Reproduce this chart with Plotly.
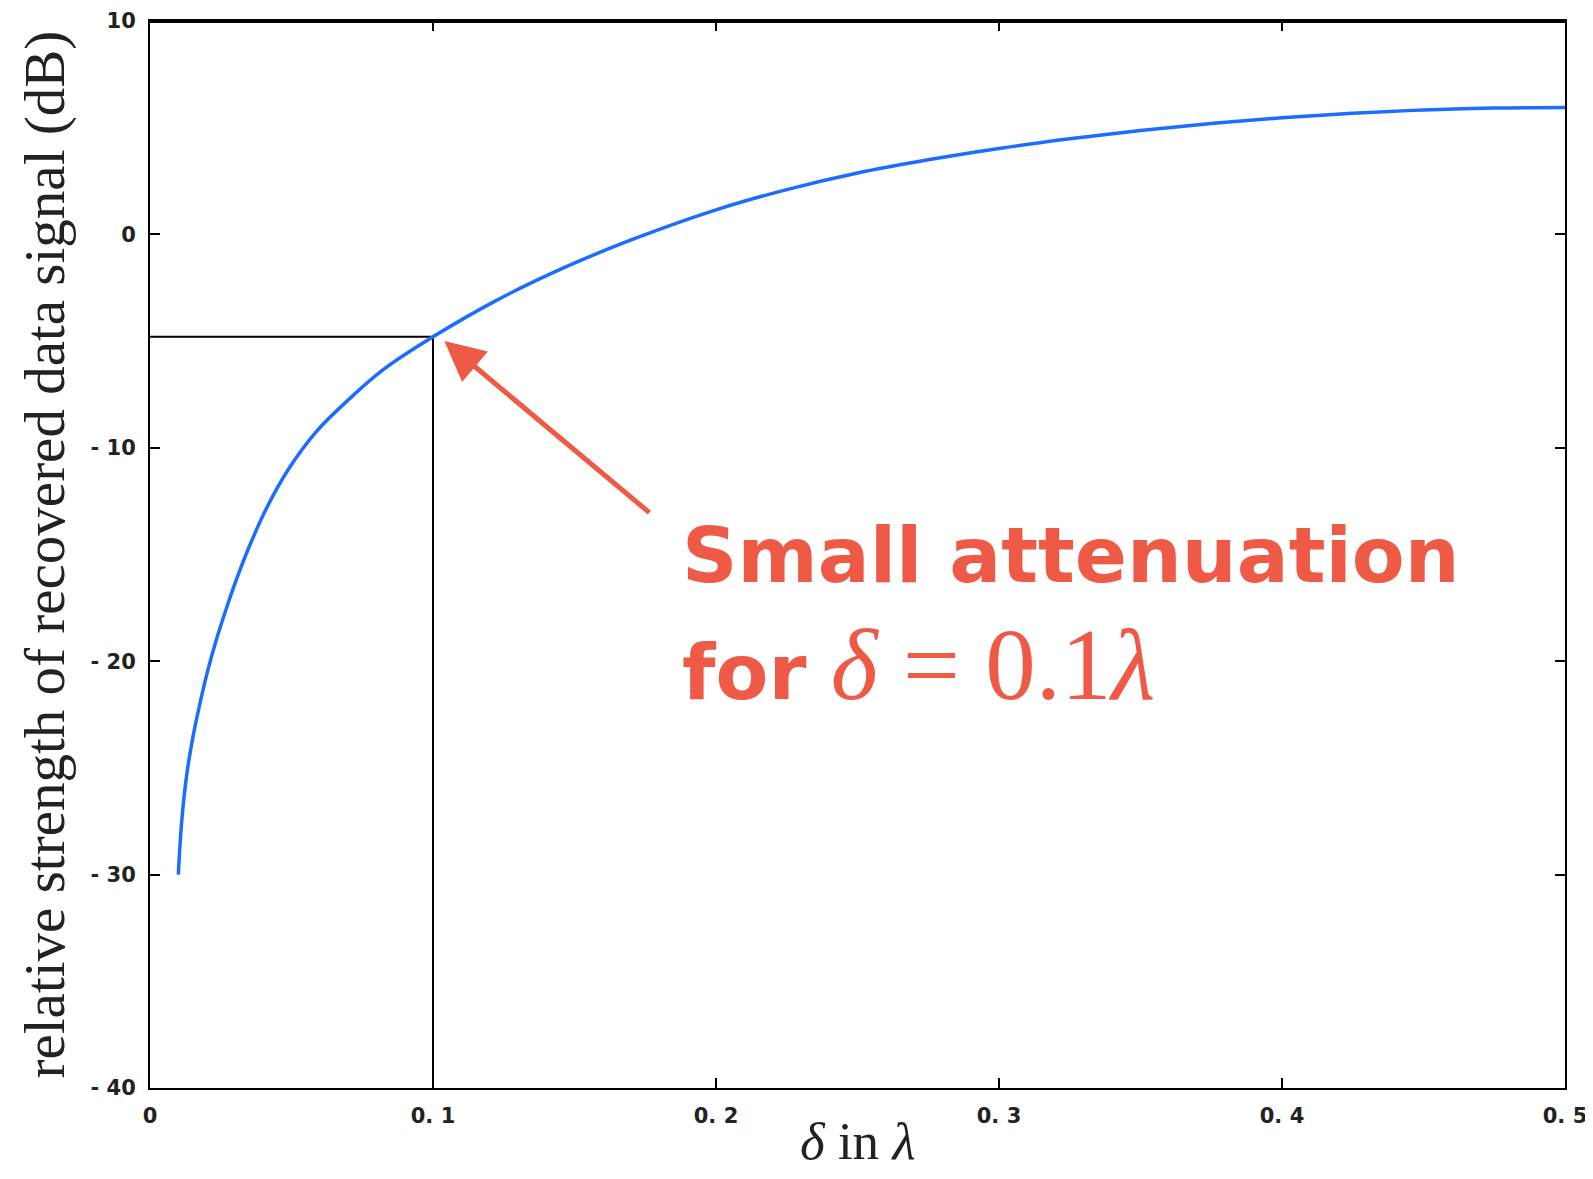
import plotly.graph_objects as go

# Curve (delta in wavelengths, relative strength in dB)
delta = [0.010, 0.0113, 0.0131, 0.0149, 0.0172, 0.0202, 0.0232, 0.0273, 0.031,
         0.035, 0.0409, 0.0492, 0.0587, 0.0705, 0.0823, 0.100, 0.1226, 0.1463,
         0.170, 0.200, 0.225, 0.250, 0.275, 0.300, 0.325, 0.350, 0.375,
         0.400, 0.425, 0.450, 0.475, 0.500]
strength_db = [-30.0, -27.35, -25.2, -23.75, -22.25, -20.55, -19.1, -17.4, -16.0,
               -14.65, -12.9, -10.95, -9.25, -7.7, -6.35, -4.8, -3.08, -1.56,
               -0.26, 1.15, 2.1, 2.88, 3.5, 4.03, 4.48, 4.87, 5.2,
               5.47, 5.68, 5.83, 5.92, 5.95]

# Marked operating point
mark_delta = 0.1
mark_db = -4.8

x_ticks = [0, 0.1, 0.2, 0.3, 0.4, 0.5]
x_ticklabels = ["0", "0. 1", "0. 2", "0. 3", "0. 4", "0. 5"]
y_ticks = [-40, -30, -20, -10, 0, 10]
y_ticklabels = ["- 40", "- 30", "- 20", "- 10", "0", "10"]

RED = '#EF5A46'
SERIF = 'Liberation Serif'
TICK_FONT = dict(family='DejaVu Sans', size=21, color='#222222')

fig = go.Figure()

# Guide lines to the marked point
fig.add_trace(go.Scatter(
    x=[0, mark_delta, mark_delta], y=[mark_db, mark_db, -40],
    mode='lines', line=dict(color='black', width=2),
    hoverinfo='skip', showlegend=False
))

# Main curve
fig.add_trace(go.Scatter(
    x=delta, y=strength_db, mode='lines',
    line=dict(color='#1A6DFF', width=3.5, shape='spline', smoothing=1.0),
    showlegend=False
))

# Arrow pointing to the marked point
fig.add_annotation(
    x=mark_delta + 0.004, y=mark_db - 0.2, xref='x', yref='y',
    ax=0.177, ay=-13.1, axref='x', ayref='y',
    text='', showarrow=True, arrowhead=2, arrowsize=1.6, arrowwidth=5,
    arrowcolor=RED, standoff=0
)

# Annotation text
fig.add_annotation(
    x=0.1874, y=-15.05, xref='x', yref='y', xanchor='left', yanchor='middle',
    text='<b>Small attenuation</b>', showarrow=False,
    font=dict(family='DejaVu Sans', size=77, color=RED)
)
fig.add_annotation(
    x=0.1874, y=-20.2, xref='x', yref='y', xanchor='left', yanchor='middle',
    text=("<b>for</b> <span style='font-family:" + SERIF + ";font-size:101px'>"
          "<i>δ</i> = 0.1<i>λ</i></span>"),
    showarrow=False,
    font=dict(family='DejaVu Sans', size=77, color=RED)
)

# Axis titles
fig.add_annotation(
    x=-106 / 1415, y=0.5, xref='paper', yref='paper', textangle=-90,
    xanchor='center', yanchor='middle',
    text='relative strength of recovered data signal (dB)', showarrow=False,
    font=dict(family=SERIF, size=57, color='#222222')
)
fig.add_annotation(
    x=0.5, y=-53 / 1067, xref='paper', yref='paper',
    xanchor='center', yanchor='middle', showarrow=False,
    text='<i>δ</i> in <i>λ</i>',
    font=dict(family=SERIF, size=53, color='#222222')
)

# Thicker top border
fig.add_shape(type='line', xref='paper', yref='paper', x0=0, x1=1, y0=1, y1=1,
              line=dict(color='black', width=4))

axis_style = dict(
    showgrid=False, zeroline=False, showline=True, linecolor='black', linewidth=2,
    mirror='ticks', ticks='inside', ticklen=10, tickwidth=2, tickcolor='black',
    tickfont=TICK_FONT, ticklabelstandoff=8, automargin=False
)

fig.update_xaxes(range=[0, 0.5], tickvals=x_ticks,
                 ticktext=['<b>%s</b>' % t for t in x_ticklabels], **axis_style)
fig.update_yaxes(range=[-40, 10], tickvals=y_ticks,
                 ticktext=['<b>%s</b>' % t for t in y_ticklabels], **axis_style)

# page body adds 8px, so margins are shifted to keep the plot box in place
fig.update_layout(
    width=1593, height=1179,
    margin=dict(l=142, r=36, t=13, b=99),
    plot_bgcolor='white', paper_bgcolor='white',
    showlegend=False
)

fig.write_html("out.html")
